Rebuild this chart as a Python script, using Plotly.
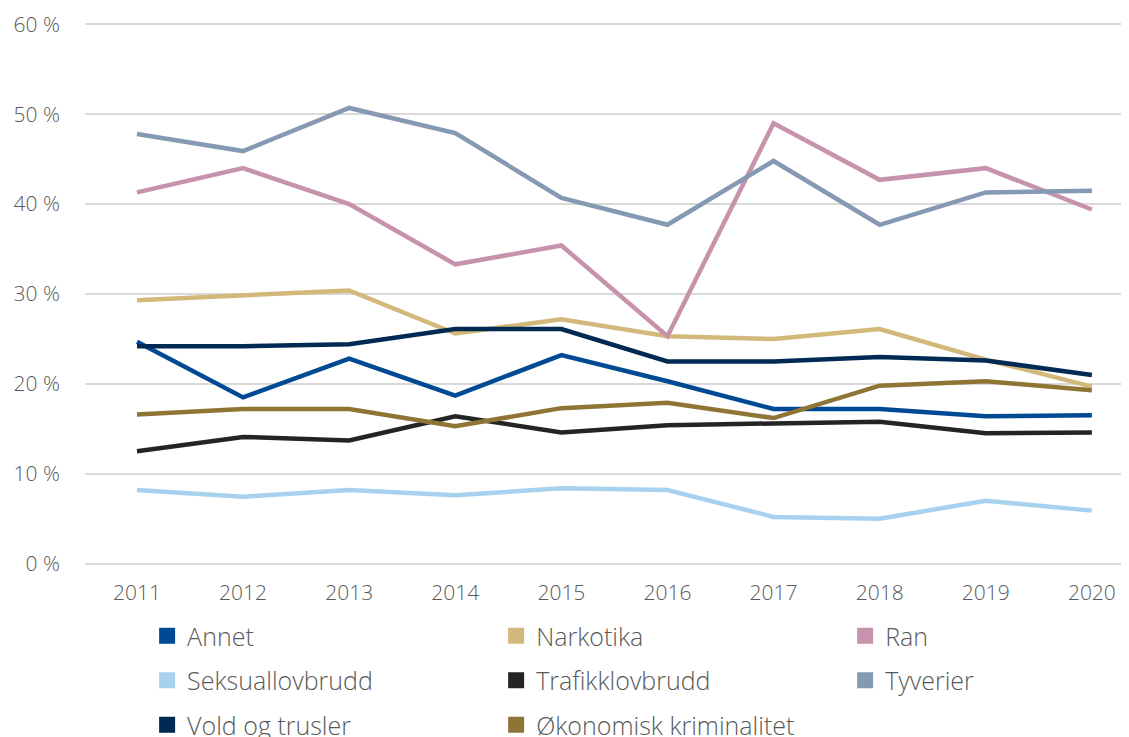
import plotly.graph_objects as go

years = ["2011", "2012", "2013", "2014", "2015", "2016", "2017", "2018", "2019", "2020"]

annet = [24.7, 18.5, 22.8, 18.7, 23.2, 20.3, 17.2, 17.2, 16.4, 16.5]
narkotika = [29.3, 29.8, 30.4, 25.6, 27.2, 25.3, 25.0, 26.1, 22.7, 19.7]
ran = [41.3, 44.0, 40.0, 33.3, 35.4, 25.3, 49.0, 42.7, 44.0, 39.4]
seksual = [8.2, 7.45, 8.2, 7.6, 8.4, 8.2, 5.2, 5.0, 7.0, 5.9]
trafikk = [12.5, 14.1, 13.7, 16.4, 14.6, 15.4, 15.6, 15.8, 14.5, 14.6]
tyverier = [47.8, 45.9, 50.7, 47.9, 40.7, 37.7, 44.8, 37.7, 41.3, 41.5]
vold = [24.2, 24.2, 24.4, 26.1, 26.1, 22.5, 22.5, 23.0, 22.6, 21.0]
okonomisk = [16.6, 17.2, 17.2, 15.3, 17.3, 17.9, 16.2, 19.8, 20.3, 19.3]

series = [
    ("Annet", annet, "#004A93", "legend"),
    ("Narkotika", narkotika, "#D2B97B", "legend2"),
    ("Ran", ran, "#C692AC", "legend3"),
    ("Seksuallovbrudd", seksual, "#A8D1F0", "legend"),
    ("Trafikklovbrudd", trafikk, "#242424", "legend2"),
    ("Tyverier", tyverier, "#8599B3", "legend3"),
    ("Vold og trusler", vold, "#002A54", "legend"),
    ("Økonomisk kriminalitet", okonomisk, "#8F7535", "legend2"),
]

fig = go.Figure()
for name, vals, color, lg in series:
    fig.add_trace(go.Scatter(
        x=years, y=vals, mode="lines", name=name,
        line=dict(color=color, width=4.5), showlegend=False,
        hoverinfo="skip",
    ))
for name, vals, color, lg in series:
    fig.add_trace(go.Scatter(
        x=[None], y=[None], mode="markers", name=name,
        marker=dict(symbol="square", size=18, color=color),
        legend=lg, legendgroup=name, showlegend=True,
    ))

font_family = "'Open Sans', Lato, sans-serif"
tick_color = "#595959"

legend_common = dict(
    orientation="v", yanchor="top", xanchor="left",
    bgcolor="rgba(0,0,0,0)", tracegroupgap=9,
    font=dict(family=font_family, size=25, color=tick_color, weight=300),
    itemclick=False, itemdoubleclick=False,
)

# the page body has an 8px margin, so the figure is sized/offset to compensate
fig.update_layout(
    width=1121, height=729,
    margin=dict(l=77, r=0, t=15, b=172, autoexpand=False),
    paper_bgcolor="white", plot_bgcolor="white",
    font=dict(family=font_family, size=21, color=tick_color, weight=300),
    xaxis=dict(
        type="category", range=[-0.49, 9.35],
        showgrid=False, showline=False, zeroline=False,
        tickfont=dict(family=font_family, size=21, color=tick_color, weight=300),
        ticks="", ticklabelstandoff=13,
    ),
    yaxis=dict(
        range=[-0.15, 60.15], tickvals=[0, 10, 20, 30, 40, 50, 60],
        ticktext=["0 %", "10 %", "20 %", "30 %", "40 %", "50 %", "60 %"],
        showgrid=True, gridcolor="#D9D9D9", gridwidth=1.5,
        zeroline=False, showline=False, ticks="",
        tickfont=dict(family=font_family, size=21, color=tick_color, weight=300),
        ticklabelstandoff=24,
    ),
    legend=dict(x=0.0595, y=-0.0886, **legend_common),
    legend2=dict(x=0.3938, y=-0.0886, **legend_common),
    legend3=dict(x=0.7281, y=-0.0886, **legend_common),
)

fig.write_html("out.html")
